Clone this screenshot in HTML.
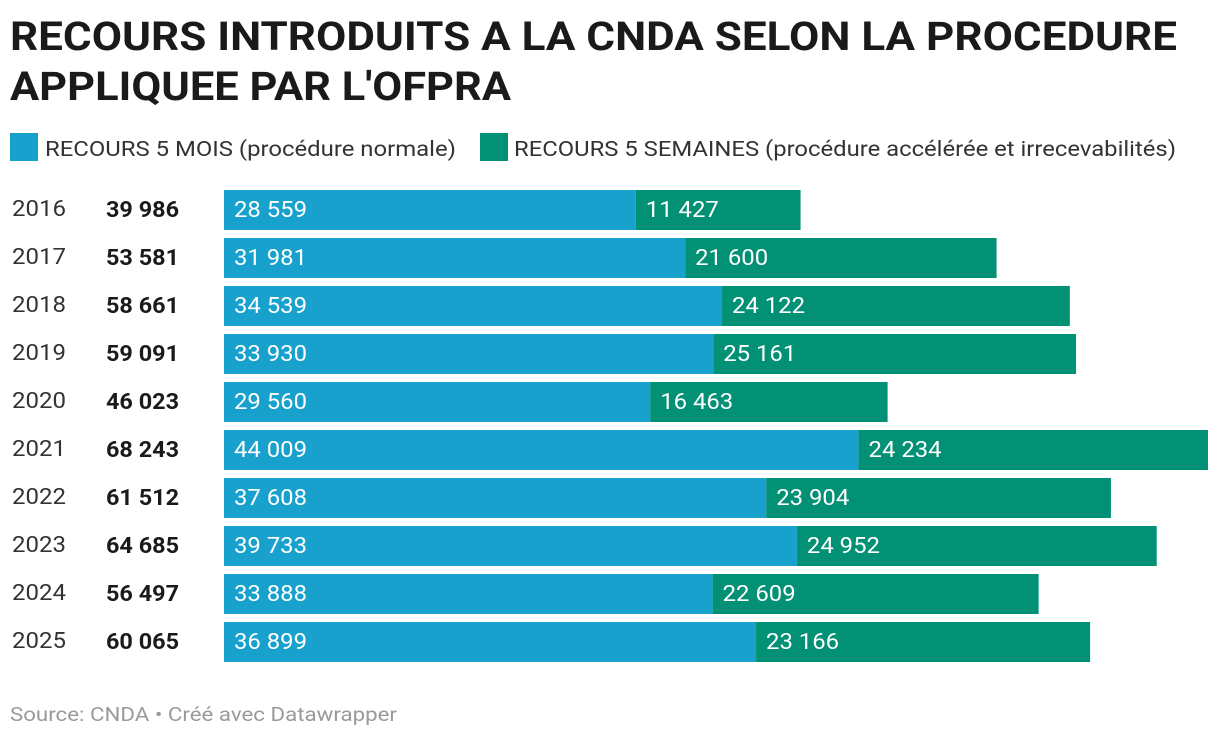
<!DOCTYPE html>
<html><head><meta charset="utf-8">
<style>
body{margin:0;background:#fff;width:1220px;height:738px;overflow:hidden}
svg{display:block;font-family:"Roboto","Liberation Sans",sans-serif}
</style></head>
<body>
<svg id="chart" width="1220" height="738">
<text x="10" y="50" font-size="40" font-weight="bold" fill="#1a1a1a" textLength="1167" lengthAdjust="spacingAndGlyphs">RECOURS INTRODUITS A LA CNDA SELON LA PROCEDURE</text>
<text x="10" y="100" font-size="40" font-weight="bold" fill="#1a1a1a" textLength="501" lengthAdjust="spacingAndGlyphs">APPLIQUEE PAR L'OFPRA</text>
<rect x="10" y="133" width="28" height="28" fill="#18a1cd"/>
<text x="45" y="156" font-size="21" fill="#333" textLength="411" lengthAdjust="spacingAndGlyphs">RECOURS 5 MOIS (procédure normale)</text>
<rect x="480" y="133" width="28" height="28" fill="#039176"/>
<text x="514" y="156" font-size="21" fill="#333" textLength="662" lengthAdjust="spacingAndGlyphs">RECOURS 5 SEMAINES (procédure accélérée et irrecevabilités)</text>
<g id="bars"></g>
<text x="10" y="721" font-size="19" fill="#9a9a9a" textLength="387" lengthAdjust="spacingAndGlyphs">Source: CNDA  • Créé avec Datawrapper</text>
</svg>
<script>
const years=["2016","2017","2018","2019","2020","2021","2022","2023","2024","2025"];
const normale=[28559,31981,34539,33930,29560,44009,37608,39733,33888,36899];
const acceleree=[11427,21600,24122,25161,16463,24234,23904,24952,22609,23166];
const X0=224,X1=1208,maxT=68243;
const xs=v=>v*(X1-X0)/maxT;
const fmt=n=>String(n).replace(/\B(?=(\d{3})+(?!\d))/g," ");
const tl=s=>{let w=0;for(const c of s)w+=(c===' '?5.5:13.5);return w;};
const g=document.getElementById('bars');
const NS="http://www.w3.org/2000/svg";
function mk(tag,attrs,txt){const e=document.createElementNS(NS,tag);for(const k in attrs)e.setAttribute(k,attrs[k]);if(txt!==undefined){e.textContent=txt;e.setAttribute('textLength',tl(txt));e.setAttribute('lengthAdjust','spacingAndGlyphs');}g.appendChild(e);return e;}
years.forEach((y,i)=>{
  const top=190+i*48, a=normale[i], b=acceleree[i];
  let e=mk('text',{x:12,y:top+26,'font-size':22,fill:'#333'},y);
  
  
  e=mk('text',{x:106,y:top+27,'font-size':22,'font-weight':'bold',fill:'#1a1a1a'},fmt(a+b));
  
  
  e=mk('rect',{x:X0,y:top,width:xs(a),height:40,fill:'#18a1cd'});
  
  
  e=mk('rect',{x:X0+xs(a),y:top,width:xs(b),height:40,fill:'#039176'});
  
  
  e=mk('text',{x:X0+10,y:top+27,'font-size':22,fill:'#fff'},fmt(a));
  
  
  e=mk('text',{x:X0+xs(a)+10,y:top+27,'font-size':22,fill:'#fff'},fmt(b));
  
  
});
</script>
</body></html>
